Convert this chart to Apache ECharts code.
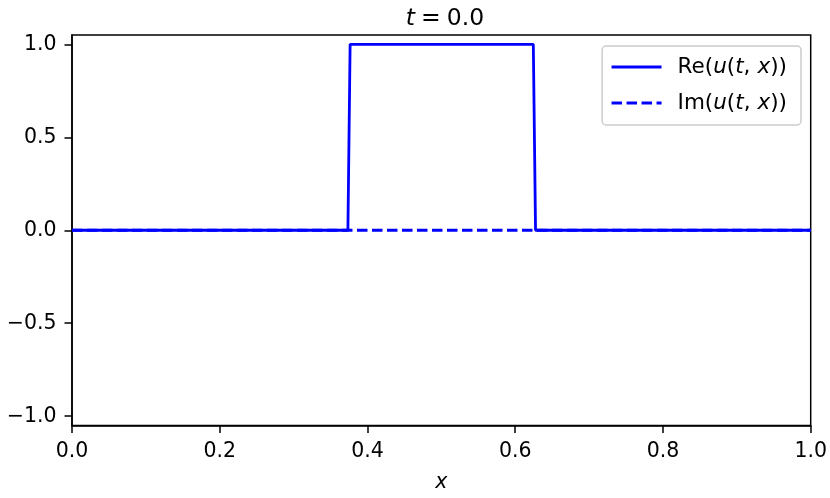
<!DOCTYPE html>
<html>
<head>
<meta charset="utf-8">
<script src="https://cdn.jsdelivr.net/npm/echarts@6/dist/echarts.min.js"></script>
<style>
html,body{margin:0;padding:0;background:#fff;}
#chart{width:830px;height:498px;}
</style>
</head>
<body>
<div id="chart"></div>
<script>
// Data
const xValues = [0, 0.3735, 0.3765, 0.6245, 0.6275, 1.0];
const reValues = [0, 0, 1, 1, 0, 0];
const imValues = [0, 0, 0, 0, 0, 0];
const yTicks = [-1.0, -0.5, 0.0, 0.5, 1.0];
const xTicks = [0.0, 0.2, 0.4, 0.6, 0.8, 1.0];
const seriesNames = ['Re(u(t,x))', 'Im(u(t,x))'];
const titleValue = '0.0';

const FONT = 'DejaVu Sans';
const FS = 20.5;
const fmt = v => (v < 0 ? '\u2212' : '') + Math.abs(v).toFixed(1);

const chart = echarts.init(document.getElementById('chart'), null, {renderer: 'canvas'});
const LFS = 21.5;
const rich = {
  n: {fontFamily: FONT, fontSize: LFS, color: '#000'},
  i: {fontFamily: FONT, fontSize: LFS, fontStyle: 'italic', color: '#000'},
  s: {fontFamily: FONT, fontSize: LFS, color: '#000', width: 7}
};
const legendFmt = name => {
  const p = name.slice(0, 2);
  return '{n|' + p + '(}{i|u}{n|(}{i|t}{n|,}{s|}{i|x}{n|))}';
};
const TFS = 23.5;
chart.setOption({
  animation: false,
  backgroundColor: '#fff',
  title: {
    text: '{i|t}{s|}{n|=}{s|}{n|' + titleValue + '}',
    left: 440, top: 2, textAlign: 'center',
    textStyle: {rich: {
      n: {fontFamily: FONT, fontSize: TFS, fontWeight: 'normal', color: '#000'},
      i: {fontFamily: FONT, fontSize: TFS, fontWeight: 'normal', fontStyle: 'italic', color: '#000'},
      s: {fontFamily: FONT, fontSize: TFS, width: 6}
    }}
  },
  grid: {left: 72, right: 18, top: 35, bottom: 72.5, show: true, borderColor: '#000', borderWidth: 1.5, backgroundColor: 'transparent'},
  legend: {
    right: 29, top: 46,
    orient: 'vertical',
    data: seriesNames,
    itemWidth: 50, itemHeight: 20, itemGap: 14,
    padding: [10, 14, 11, 8],
    backgroundColor: 'rgba(255,255,255,0.8)',
    borderColor: '#cccccc', borderWidth: 1.5, borderRadius: 4,
    formatter: legendFmt,
    itemStyle: {opacity: 0},
    lineStyle: {opacity: 1, width: 2.8},
    textStyle: {rich: rich, padding: [0, 0, 0, 11]}
  },
  xAxis: {
    type: 'value', min: 0, max: 1, interval: 0.2,
    name: 'x', nameLocation: 'middle', nameGap: 47,
    nameTextStyle: {fontFamily: FONT, fontSize: FS, fontStyle: 'italic', color: '#000'},
    axisLine: {show: true, onZero: false, lineStyle: {color: '#000', width: 1.5}},
    axisTick: {show: true, length: 7.5, lineStyle: {color: '#000', width: 1.5}},
    axisLabel: {margin: 15.5, fontFamily: FONT, fontSize: FS, color: '#000', formatter: fmt},
    splitLine: {show: false}
  },
  yAxis: {
    type: 'value', min: -1.05, max: 1.05,
    axisLine: {show: true, onZero: false, lineStyle: {color: '#000', width: 1.5}},
    axisTick: {show: true, length: 7.5, lineStyle: {color: '#000', width: 1.5}, customValues: yTicks},
    axisLabel: {margin: 15.5, fontFamily: FONT, fontSize: FS, color: '#000', formatter: fmt, customValues: yTicks, showMinLabel: true, showMaxLabel: true},
    splitLine: {show: false}
  },
  series: [
    {
      name: seriesNames[0], type: 'line', symbol: 'none',
      data: xValues.map((x, i) => [x, reValues[i]]),
      lineStyle: {color: '#0000ff', width: 2.8},
      itemStyle: {color: '#0000ff'}
    },
    {
      name: seriesNames[1], type: 'line', symbol: 'none',
      data: xValues.map((x, i) => [x, imValues[i]]),
      lineStyle: {color: '#0000ff', width: 2.8, type: [10.5, 4.5]},
      itemStyle: {color: '#0000ff'}
    }
  ]
});
</script>
</body>
</html>
